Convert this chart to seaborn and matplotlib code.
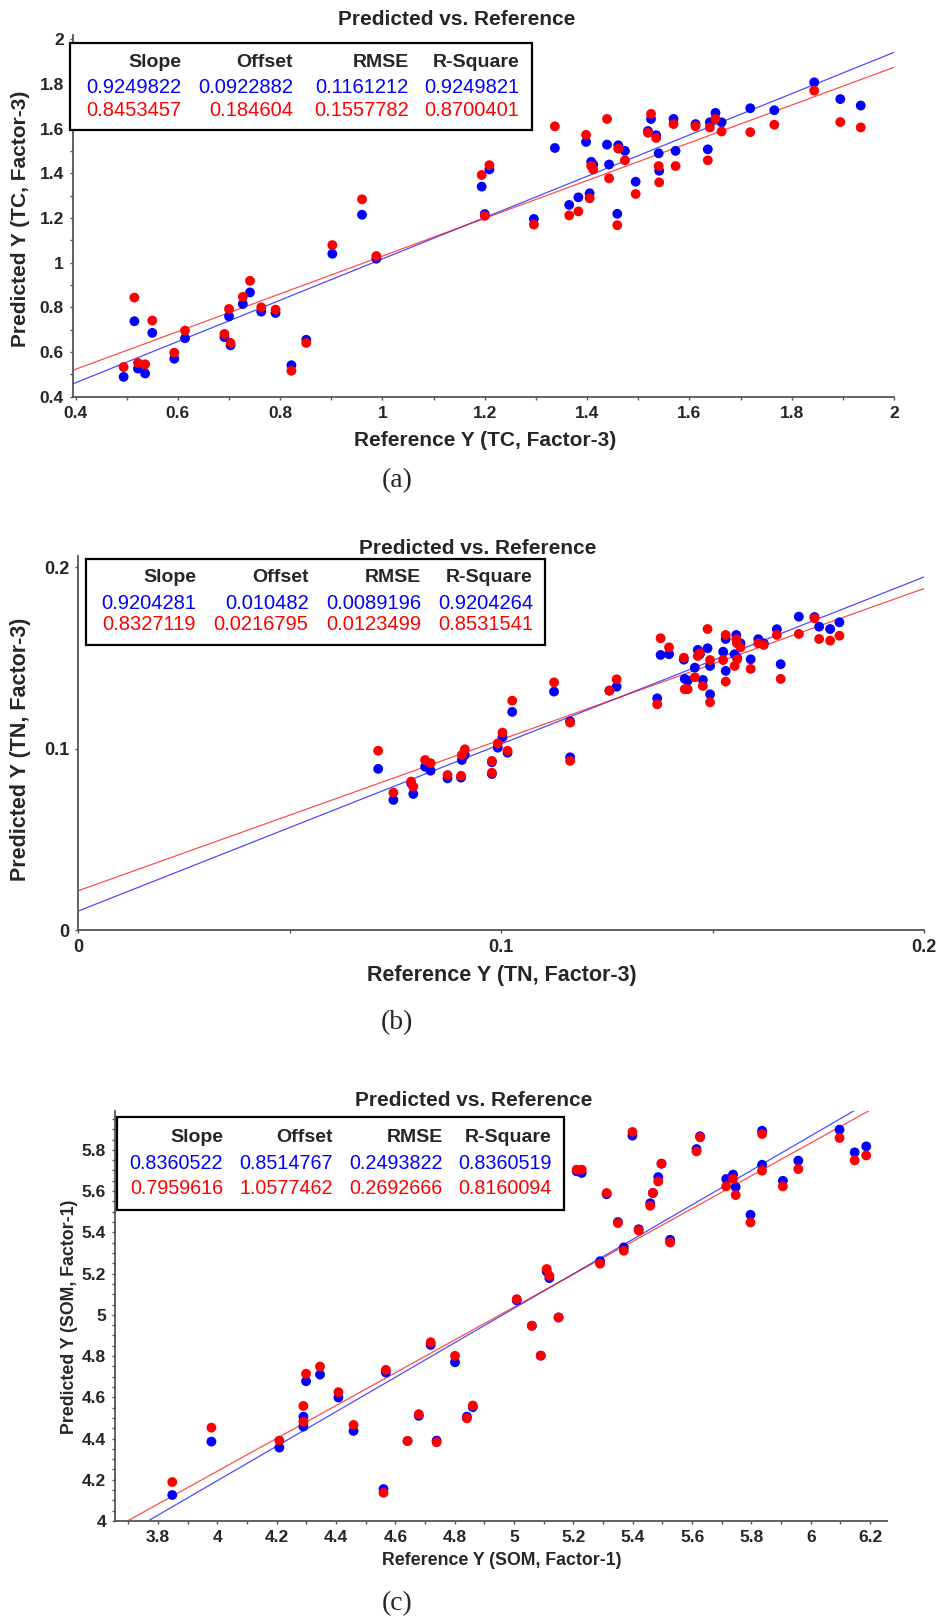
import numpy as np
import pandas as pd
import matplotlib
matplotlib.use("Agg")
import matplotlib.pyplot as plt
import seaborn as sns
from matplotlib.patches import Rectangle
from matplotlib.ticker import FixedLocator, FuncFormatter

# ---------------- data ----------------
# (a) TC, Factor-3
tc_ref = [0.494, 0.515, 0.522, 0.536, 0.550, 0.593, 0.614, 0.691, 0.700, 0.703,
          0.727, 0.741, 0.763, 0.791, 0.822, 0.851, 0.902, 0.960, 0.988, 1.194,
          1.200, 1.209, 1.296, 1.337, 1.365, 1.383, 1.398, 1.405, 1.408, 1.412,
          1.439, 1.443, 1.459, 1.461, 1.474, 1.495, 1.519, 1.525, 1.535, 1.540,
          1.541, 1.569, 1.573, 1.612, 1.636, 1.640, 1.651, 1.663, 1.719, 1.766,
          1.844, 1.895, 1.935]
tc_blue = [0.489, 0.738, 0.526, 0.504, 0.686, 0.570, 0.662, 0.667, 0.760, 0.630,
           0.815, 0.867, 0.781, 0.775, 0.541, 0.655, 1.040, 1.215, 1.018, 1.341,
           1.218, 1.418, 1.196, 1.514, 1.259, 1.293, 1.541, 1.311, 1.452, 1.440,
           1.529, 1.440, 1.219, 1.526, 1.501, 1.363, 1.590, 1.644, 1.571, 1.490,
           1.412, 1.644, 1.501, 1.621, 1.508, 1.629, 1.671, 1.629, 1.692, 1.683,
           1.808, 1.733, 1.704]
tc_red = [0.533, 0.844, 0.551, 0.545, 0.741, 0.597, 0.696, 0.681, 0.793, 0.641,
          0.847, 0.919, 0.800, 0.790, 0.516, 0.641, 1.079, 1.284, 1.030, 1.393,
          1.210, 1.437, 1.171, 1.611, 1.212, 1.230, 1.573, 1.289, 1.434, 1.418,
          1.644, 1.378, 1.168, 1.511, 1.459, 1.308, 1.582, 1.667, 1.559, 1.433,
          1.360, 1.621, 1.433, 1.611, 1.459, 1.606, 1.644, 1.588, 1.585, 1.618,
          1.771, 1.630, 1.606]
tc_slope = [0.9249822, 0.8453457]
tc_offset = [0.0922882, 0.184604]
tc_table = [["0.9249822", "0.0922882", "0.1161212", "0.9249821"],
            ["0.8453457", "0.184604", "0.1557782", "0.8700401"]]

# (b) TN, Factor-3
tn_ref = [0.0709, 0.0745, 0.0787, 0.0792, 0.0820, 0.0833, 0.0873, 0.0905, 0.0907, 0.0914,
          0.0978, 0.0978, 0.0992, 0.1003, 0.1015, 0.1026, 0.1125, 0.1163, 0.1163, 0.1256,
          0.1273, 0.1369, 0.1377, 0.1397, 0.1432, 0.1434, 0.1441, 0.1458, 0.1465, 0.1470,
          0.1477, 0.1488, 0.1494, 0.1494, 0.1525, 0.1531, 0.1531, 0.1552, 0.1556, 0.1558,
          0.1558, 0.1566, 0.1590, 0.1608, 0.1621, 0.1652, 0.1661, 0.1704, 0.1741, 0.1752,
          0.1778, 0.1800]
tn_blue = [0.0888, 0.0717, 0.0809, 0.0750, 0.0900, 0.0878, 0.0836, 0.0840, 0.0937, 0.0965,
           0.0925, 0.0860, 0.1005, 0.1062, 0.0977, 0.1202, 0.1314, 0.1150, 0.0952, 0.1320,
           0.1341, 0.1277, 0.1516, 0.1520, 0.1490, 0.1384, 0.1375, 0.1446, 0.1544, 0.1520,
           0.1378, 0.1553, 0.1455, 0.1299, 0.1534, 0.1428, 0.1604, 0.1520, 0.1626, 0.1585,
           0.1500, 0.1580, 0.1492, 0.1603, 0.1580, 0.1658, 0.1465, 0.1727, 0.1725, 0.1672,
           0.1659, 0.1696]
tn_red = [0.0988, 0.0757, 0.0818, 0.0790, 0.0937, 0.0919, 0.0854, 0.0850, 0.0965, 0.0996,
          0.0932, 0.0867, 0.1029, 0.1088, 0.0988, 0.1264, 0.1365, 0.1143, 0.0932, 0.1319,
          0.1382, 0.1244, 0.1608, 0.1558, 0.1501, 0.1327, 0.1327, 0.1393, 0.1510, 0.1525,
          0.1345, 0.1659, 0.1488, 0.1255, 0.1488, 0.1369, 0.1626, 0.1455, 0.1603, 0.1580,
          0.1492, 0.1558, 0.1439, 0.1580, 0.1571, 0.1626, 0.1384, 0.1632, 0.1718, 0.1604,
          0.1595, 0.1622]
tn_slope = [0.9204281, 0.8327119]
tn_offset = [0.010482, 0.0216795]
tn_table = [["0.9204281", "0.010482", "0.0089196", "0.9204264"],
            ["0.8327119", "0.0216795", "0.0123499", "0.8531541"]]

# (c) SOM, Factor-1
som_ref = [3.848, 3.980, 4.209, 4.290, 4.290, 4.299, 4.346, 4.408, 4.459, 4.560,
           4.568, 4.641, 4.679, 4.719, 4.739, 4.801, 4.841, 4.861, 5.009, 5.060,
           5.090, 5.110, 5.119, 5.150, 5.211, 5.228, 5.290, 5.312, 5.350, 5.370,
           5.399, 5.420, 5.459, 5.468, 5.486, 5.497, 5.526, 5.615, 5.627, 5.715,
           5.738, 5.747, 5.797, 5.836, 5.836, 5.906, 5.958, 6.097, 6.148, 6.187]
som_blue = [4.126, 4.385, 4.356, 4.506, 4.458, 4.678, 4.710, 4.599, 4.437, 4.155,
            4.720, 4.388, 4.510, 4.854, 4.390, 4.770, 4.506, 4.552, 5.070, 4.947,
            4.802, 5.210, 5.178, 4.987, 5.696, 5.688, 5.260, 5.585, 5.450, 5.327,
            5.869, 5.415, 5.541, 5.591, 5.668, 5.733, 5.364, 5.804, 5.866, 5.659,
            5.680, 5.620, 5.485, 5.893, 5.728, 5.650, 5.748, 5.898, 5.788, 5.817]
som_red = [4.189, 4.453, 4.390, 4.558, 4.482, 4.714, 4.749, 4.625, 4.466, 4.137,
           4.733, 4.388, 4.518, 4.867, 4.382, 4.801, 4.498, 4.560, 5.076, 4.947,
           4.802, 5.222, 5.189, 4.987, 5.704, 5.704, 5.248, 5.591, 5.445, 5.311,
           5.887, 5.409, 5.529, 5.591, 5.647, 5.733, 5.351, 5.793, 5.861, 5.623,
           5.659, 5.581, 5.448, 5.877, 5.699, 5.623, 5.707, 5.858, 5.749, 5.773]
som_slope = [0.8360522, 0.7959616]
som_offset = [0.8514767, 1.0577462]
som_table = [["0.8360522", "0.8514767", "0.2493822", "0.8360519"],
             ["0.7959616", "1.0577462", "0.2692666", "0.8160094"]]

table_header = ["Slope", "Offset", "RMSE", "R-Square"]
title_text = "Predicted vs. Reference"
colors = ["#0000ff", "#ff0000"]

# ---------------- figure ----------------
sns.set_theme(style="ticks")
plt.rcParams["font.family"] = ["Liberation Sans", "DejaVu Sans"]

W, H = 945, 1623
fig = plt.figure(figsize=(W / 100, H / 100), dpi=100)
fig.patch.set_facecolor("white")


def fx(px):
    return px / W


def fy(py):
    return 1 - py / H


def fmt(v, pos):
    return f"{round(v, 4):g}"


def draw_panel(ref, blue, red, slopes, offsets, table, lay):
    x0, y0, x1, y1 = lay["axes"]
    ax = fig.add_axes([fx(x0), fy(y1), fx(x1) - fx(x0), (y1 - y0) / H])

    n = len(ref)
    df = pd.DataFrame({"ref": list(ref) * 2,
                       "pred": list(blue) + list(red),
                       "set": ["cal"] * n + ["val"] * n})

    # regression lines under the points
    for s, o, c in zip(slopes, offsets, colors):
        ax.axline((0, o), slope=s, color=c, lw=0.9, alpha=0.7, zorder=2)

    sns.scatterplot(data=df, x="ref", y="pred", hue="set",
                    palette={"cal": colors[0], "val": colors[1]},
                    s=50, linewidth=0, legend=False, ax=ax, zorder=3)

    ax.set_xlim(*lay["xlim"])
    ax.set_ylim(*lay["ylim"])
    ax.xaxis.set_major_locator(FixedLocator(lay["xticks"]))
    ax.yaxis.set_major_locator(FixedLocator(lay["yticks"]))
    ax.xaxis.set_minor_locator(FixedLocator(lay["xminor"]))
    ax.yaxis.set_minor_locator(FixedLocator(lay["yminor"]))
    ax.xaxis.set_major_formatter(FuncFormatter(fmt))
    ax.yaxis.set_major_formatter(FuncFormatter(fmt))

    for side in ["top", "right"]:
        ax.spines[side].set_visible(False)
    for side in ["left", "bottom"]:
        ax.spines[side].set_color("#555555")
        ax.spines[side].set_linewidth(1.3)
    ax.tick_params(which="both", direction="out", length=2.5, width=1,
                   color="#555555", labelsize=lay["ticksize"], pad=4)
    for lab in ax.get_xticklabels() + ax.get_yticklabels():
        lab.set_fontweight("bold")

    ax.set_xlabel(lay["xlabel"], fontsize=lay["labelsize"], fontweight="bold",
                  va="center", ha="center")
    ax.set_ylabel(lay["ylabel"], fontsize=lay["labelsize"], fontweight="bold",
                  va="center", ha="center")
    ax.xaxis.set_label_coords(fx(lay["xlab_pos"][0]), fy(lay["xlab_pos"][1]),
                              transform=fig.transFigure)
    ax.yaxis.set_label_coords(fx(lay["ylab_pos"][0]), fy(lay["ylab_pos"][1]),
                              transform=fig.transFigure)

    fig.text(fx(lay["title_pos"][0]), fy(lay["title_pos"][1]), title_text,
             ha="center", va="center", fontsize=15, fontweight="bold")

    # statistics box
    bx0, by0, bx1, by1 = lay["box"]
    fig.add_artist(Rectangle((fx(bx0), fy(by1)), (bx1 - bx0) / W, (by1 - by0) / H,
                             transform=fig.transFigure, facecolor="white",
                             edgecolor="black", lw=1.6, zorder=5))
    rows = lay["rows"]
    for cx, head in zip(lay["cols"], table_header):
        fig.text(fx(cx), fy(rows[0]), head, ha="right", va="center",
                 fontsize=14, fontweight="bold", zorder=6)
    for r, (vals, c) in enumerate(zip(table, colors)):
        for cx, v in zip(lay["cols"], vals):
            fig.text(fx(cx), fy(rows[r + 1]), v, ha="right", va="center",
                     fontsize=lay["valsize"], color=c, zorder=6)

    fig.text(fx(lay["cap_pos"][0]), fy(lay["cap_pos"][1]), lay["caption"],
             ha="center", va="center", fontsize=20, family=["Liberation Serif", "DejaVu Serif"])
    return ax


layout_a = dict(axes=(73, 35, 894, 396.7), xlim=(0.395, 2.0), ylim=(0.4, 2.02),
                xticks=np.round(np.arange(0.4, 2.01, 0.2), 2),
                yticks=np.round(np.arange(0.4, 2.01, 0.2), 2),
                xminor=np.round(np.arange(0.5, 2.0, 0.2), 2),
                yminor=np.round(np.arange(0.5, 2.0, 0.2), 2),
                ticksize=12.5, labelsize=15,
                xlabel="Reference Y (TC, Factor-3)", ylabel="Predicted Y (TC, Factor-3)",
                xlab_pos=(485, 440), ylab_pos=(21, 219), title_pos=(457, 19.5),
                box=(70, 43, 532, 130), rows=(62.7, 87.3, 110),
                cols=(181.7, 293, 408.7, 519.6), valsize=14.5,
                caption="(a)", cap_pos=(397, 481))

layout_b = dict(axes=(78.4, 555.7, 924, 930), xlim=(0, 0.2), ylim=(0, 0.2063),
                xticks=[0, 0.1, 0.2], yticks=[0, 0.1, 0.2],
                xminor=[0.05, 0.15], yminor=[],
                ticksize=13, labelsize=15.5,
                xlabel="Reference Y (TN, Factor-3)", ylabel="Predicted Y (TN, Factor-3)",
                xlab_pos=(502, 975), ylab_pos=(21, 749), title_pos=(478, 548),
                box=(86, 558.6, 545.5, 645), rows=(577, 603, 624.6),
                cols=(196, 308.6, 421, 533), valsize=14.5,
                caption="(b)", cap_pos=(397, 1023))

layout_c = dict(axes=(115, 1110.7, 886.7, 1521), xlim=(3.655, 6.256), ylim=(4.0, 5.99),
                xticks=np.round(np.arange(3.8, 6.21, 0.2), 2),
                yticks=np.round(np.arange(4.0, 5.81, 0.2), 2),
                xminor=np.round(np.arange(3.7, 6.25, 0.2), 2),
                yminor=np.round(np.arange(4.05, 5.99, 0.05), 2),
                ticksize=12.5, labelsize=12.8,
                xlabel="Reference Y (SOM, Factor-1)", ylabel="Predicted Y (SOM, Factor-1)",
                xlab_pos=(501.5, 1560.6), ylab_pos=(69, 1316.7), title_pos=(474, 1101),
                box=(117, 1117, 563.6, 1209.5), rows=(1137, 1163.5, 1188.3),
                cols=(223, 332.7, 443, 551.5), valsize=14.2,
                caption="(c)", cap_pos=(397, 1604))

draw_panel(tc_ref, tc_blue, tc_red, tc_slope, tc_offset, tc_table, layout_a)
draw_panel(tn_ref, tn_blue, tn_red, tn_slope, tn_offset, tn_table, layout_b)
draw_panel(som_ref, som_blue, som_red, som_slope, som_offset, som_table, layout_c)

fig.savefig("out.png", dpi=100, facecolor="white")
